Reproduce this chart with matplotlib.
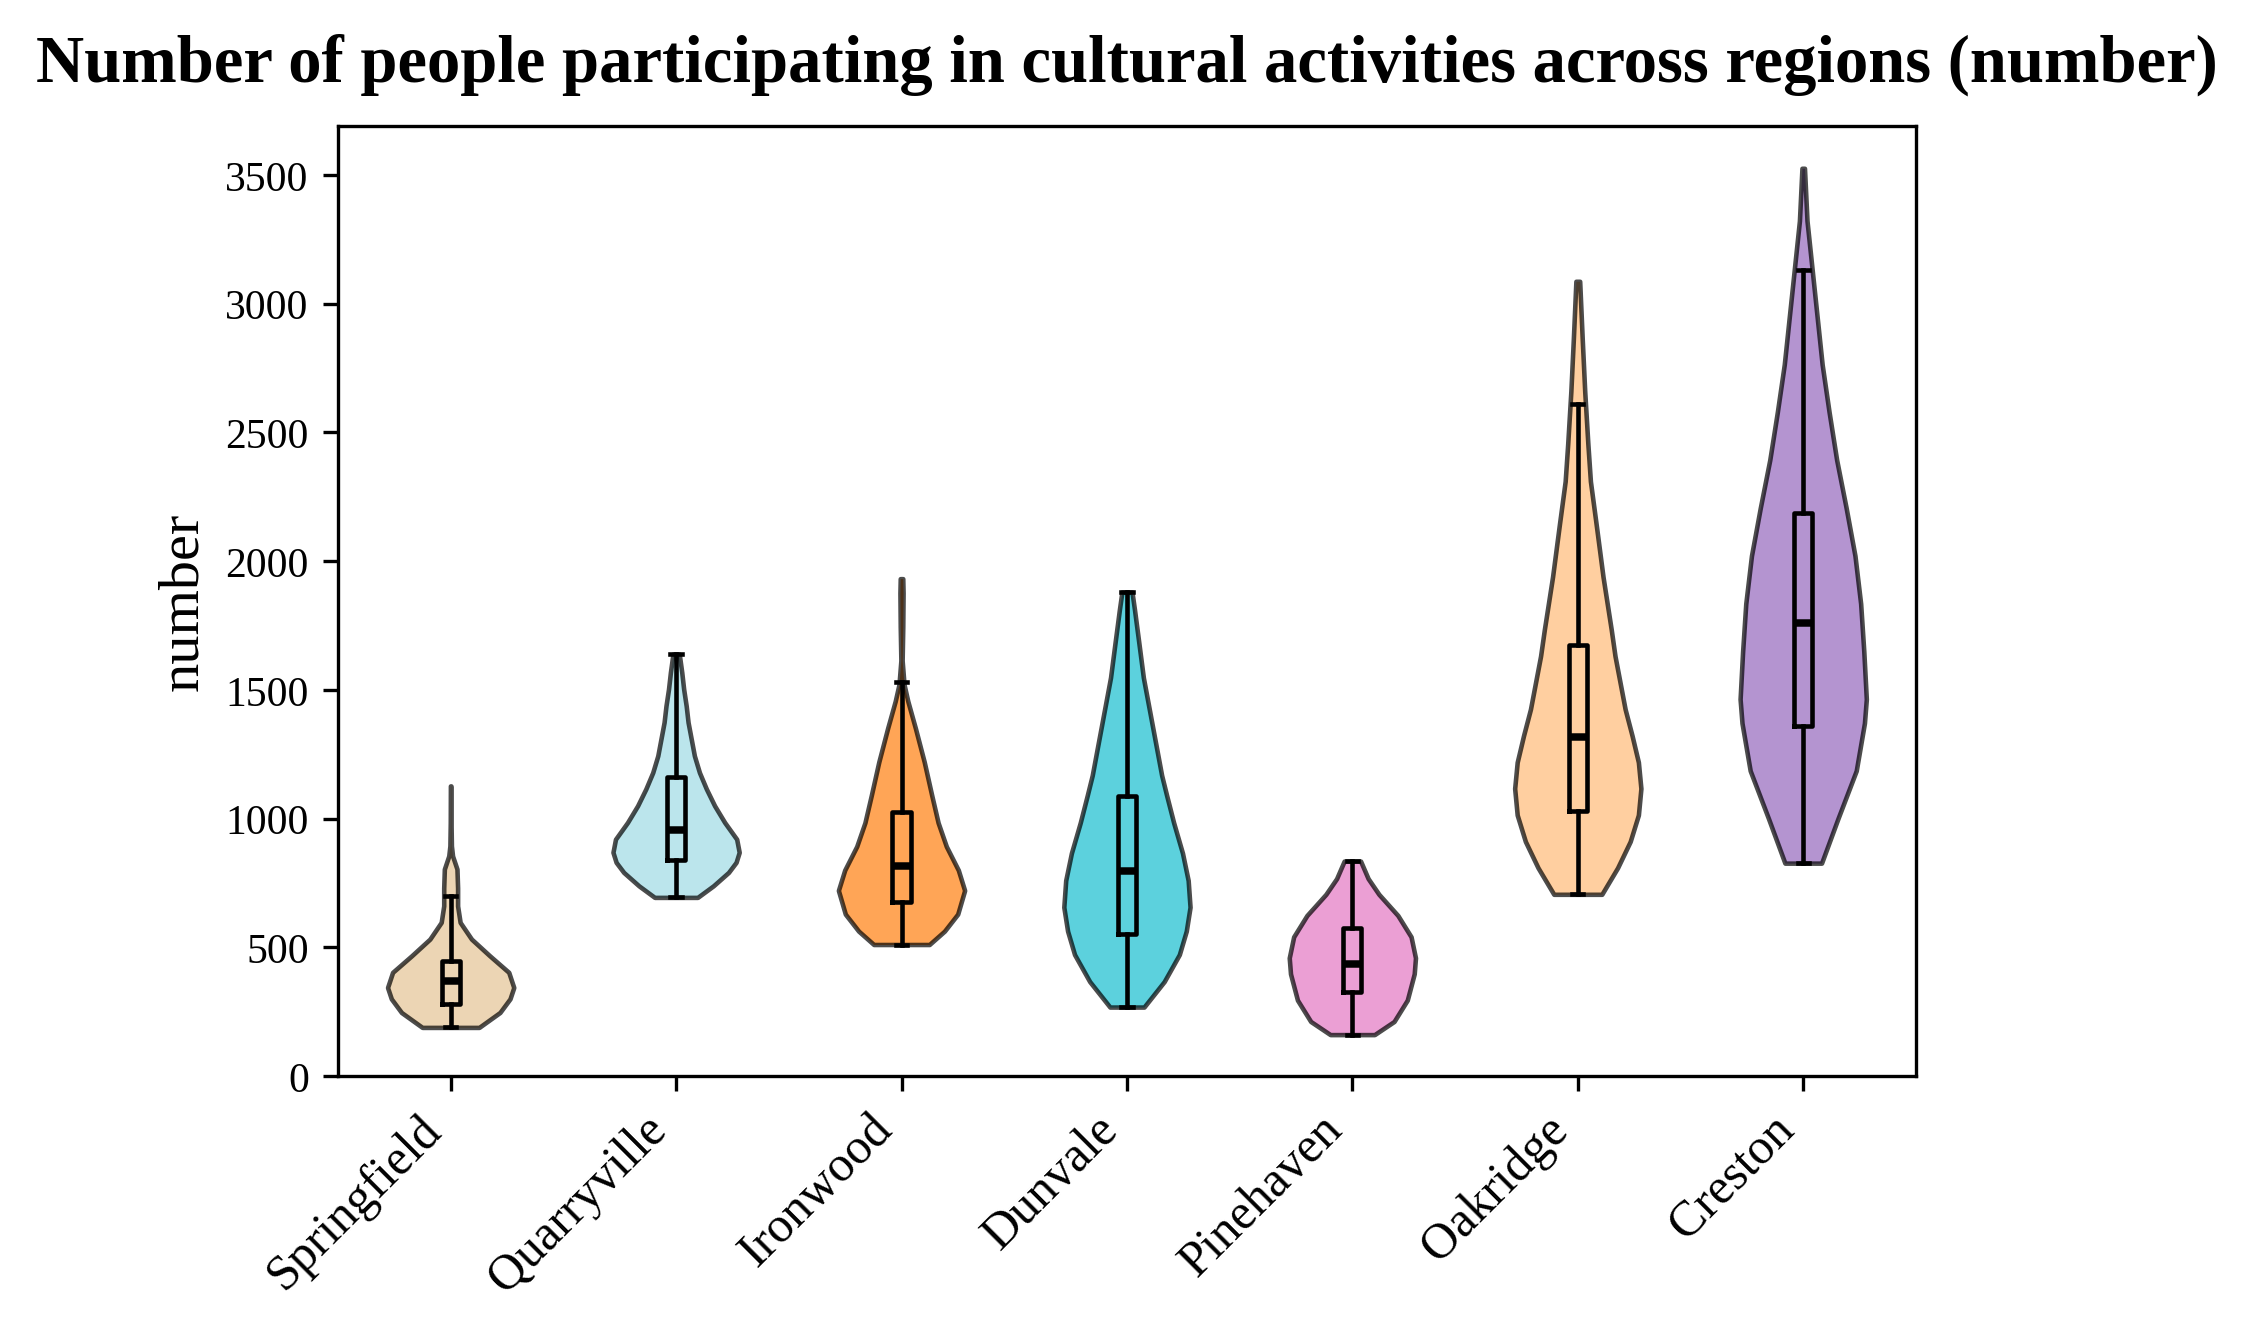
import matplotlib

matplotlib.use("Agg")

import matplotlib.pyplot as plt

plt.rcParams["font.family"] = ["Liberation Serif", "DejaVu Serif"]

REGIONS = ["Springfield", "Quarryville", "Ironwood", "Dunvale", "Pinehaven", "Oakridge", "Creston"]
COLORS = ["#e4c494", "#9edae5", "#ff7f0e", "#17becf", "#e377c2", "#ffbb78", "#9467bd"]

# density outline: (value, relative width)
SPRINGFIELD_Y = [189, 247, 300, 344, 403, 467, 532, 597, 661, 730, 804, 855, 894, 985, 1127]
SPRINGFIELD_D = [0.45, 0.78, 0.94, 1.0, 0.92, 0.62, 0.33, 0.15, 0.11, 0.11, 0.10, 0.03, 0.012, 0.006, 0.004]
QUARRYVILLE_Y = [694, 739, 791, 830, 869, 920, 985, 1050, 1115, 1179, 1244, 1309, 1374, 1438, 1503, 1568, 1639]
QUARRYVILLE_D = [0.34, 0.59, 0.83, 0.95, 1.0, 0.96, 0.77, 0.61, 0.48, 0.37, 0.29, 0.24, 0.19, 0.16, 0.12, 0.09, 0.05]
IRONWOOD_Y = [511, 563, 629, 721, 800, 892, 984, 1089, 1220, 1351, 1456, 1521, 1614, 1745, 1876, 1932]
IRONWOOD_D = [0.44, 0.68, 0.89, 1.0, 0.90, 0.71, 0.58, 0.48, 0.36, 0.22, 0.10, 0.04, 0.01, 0.02, 0.025, 0.02]
DUNVALE_Y = [268, 367, 472, 563, 656, 760, 866, 984, 1089, 1168, 1273, 1417, 1548, 1680, 1811, 1880]
DUNVALE_D = [0.27, 0.59, 0.83, 0.94, 1.0, 0.97, 0.88, 0.74, 0.63, 0.55, 0.47, 0.36, 0.26, 0.19, 0.12, 0.08]
PINEHAVEN_Y = [161, 212, 295, 397, 459, 541, 624, 706, 767, 835]
PINEHAVEN_D = [0.35, 0.66, 0.87, 0.98, 1.0, 0.93, 0.72, 0.42, 0.25, 0.13]
OAKRIDGE_Y = [706, 809, 911, 1014, 1117, 1219, 1322, 1425, 1528, 1631, 1734, 1939, 2145, 2310, 2454, 2659, 2865, 3087]
OAKRIDGE_D = [0.38, 0.63, 0.83, 0.96, 1.0, 0.96, 0.86, 0.75, 0.67, 0.59, 0.53, 0.40, 0.29, 0.20, 0.16, 0.11, 0.07, 0.03]
CRESTON_Y = [827, 1000, 1186, 1371, 1464, 1649, 1835, 2021, 2207, 2393, 2579, 2764, 2950, 3136, 3322, 3526]
CRESTON_D = [0.29, 0.55, 0.84, 0.97, 1.0, 0.96, 0.91, 0.82, 0.68, 0.53, 0.41, 0.30, 0.22, 0.14, 0.06, 0.02]

# box plot summaries
WHIS_LOW = [189, 694, 511, 268, 161, 706, 827]
Q1 = [280, 839, 678, 550, 325, 1028, 1358]
MEDIAN = [370, 957, 817, 797, 435, 1318, 1761]
Q3 = [448, 1160, 1027, 1089, 576, 1676, 2188]
WHIS_HIGH = [700, 1639, 1531, 1880, 835, 2612, 3130]

outlines = [
    (SPRINGFIELD_Y, SPRINGFIELD_D),
    (QUARRYVILLE_Y, QUARRYVILLE_D),
    (IRONWOOD_Y, IRONWOOD_D),
    (DUNVALE_Y, DUNVALE_D),
    (PINEHAVEN_Y, PINEHAVEN_D),
    (OAKRIDGE_Y, OAKRIDGE_D),
    (CRESTON_Y, CRESTON_D),
]

vpstats = []
for i, (ys, ds) in enumerate(outlines):
    vpstats.append(
        {
            "coords": ys,
            "vals": ds,
            "mean": MEDIAN[i],
            "median": MEDIAN[i],
            "min": ys[0],
            "max": ys[-1],
            "quantiles": [],
        }
    )

box_stats = [
    {"whislo": WHIS_LOW[i], "q1": Q1[i], "med": MEDIAN[i], "q3": Q3[i], "whishi": WHIS_HIGH[i], "fliers": []}
    for i in range(len(REGIONS))
]

positions = list(range(1, len(REGIONS) + 1))

fig = plt.figure(figsize=(7.48, 4.4433), dpi=300)
ax = fig.add_axes([0.1506, 0.192, 0.7032, 0.7127])

parts = ax.violin(vpstats, positions=positions, widths=0.56, showextrema=False)
for body, color in zip(parts["bodies"], COLORS):
    body.set_facecolor(color)
    body.set_edgecolor("black")
    body.set_linewidth(1.1)
    body.set_alpha(0.7)

ax.bxp(
    box_stats,
    positions=positions,
    widths=0.08,
    capwidths=0.05,
    showfliers=False,
    boxprops={"color": "black", "linewidth": 1.1},
    whiskerprops={"color": "black", "linewidth": 1.1},
    capprops={"color": "black", "linewidth": 1.1},
    medianprops={"color": "black", "linewidth": 1.8},
)

ax.set_xlim(0.5, 7.5)
ax.set_ylim(0, 3690)
ax.set_xticks(positions)
ax.set_xticklabels(REGIONS, rotation=45, ha="right", fontsize=12)
ax.set_yticks([0, 500, 1000, 1500, 2000, 2500, 3000, 3500])
ax.tick_params(axis="y", labelsize=10)
ax.set_ylabel("number", fontsize=14)
ax.set_title(
    "Number of people participating in cultural activities across regions (number)",
    fontsize=16,
    fontweight="bold",
    pad=11,
)

fig.savefig("out.png", dpi=300)
